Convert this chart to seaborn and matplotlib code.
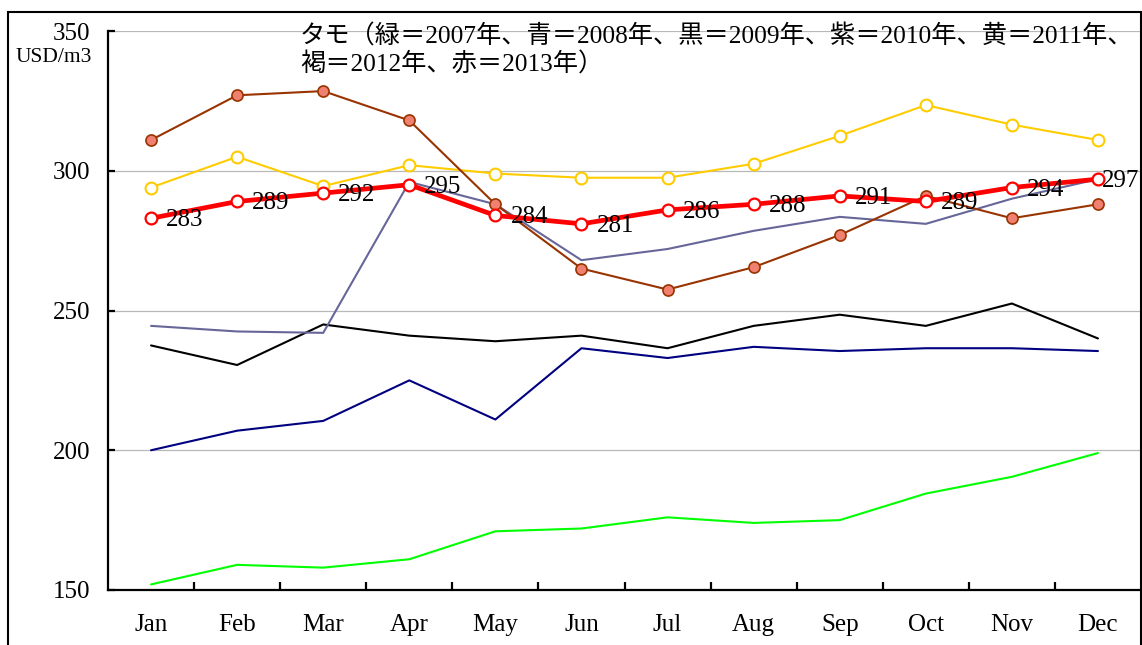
import pandas as pd
import seaborn as sns
import matplotlib.pyplot as plt
from matplotlib.patches import Rectangle
from matplotlib.ticker import FixedLocator

# 月
months = ["Jan", "Feb", "Mar", "Apr", "May", "Jun",
          "Jul", "Aug", "Sep", "Oct", "Nov", "Dec"]

# タモ価格 (USD/m3)
y2007 = [152, 159, 158, 161, 171, 172, 176, 174, 175, 184.5, 190.5, 199]
y2008 = [200, 207, 210.5, 225, 211, 236.5, 233, 237, 235.5, 236.5, 236.5, 235.5]
y2009 = [237.5, 230.5, 245, 241, 239, 241, 236.5, 244.5, 248.5, 244.5, 252.5, 240]
y2010 = [244.5, 242.5, 242, 296, 288, 268, 272, 278.5, 283.5, 281, 290, 297]
y2011 = [294, 305, 294.5, 302, 299, 297.5, 297.5, 302.5, 312.5, 323.5, 316.5, 311]
y2012 = [311, 327, 328.5, 318, 288, 265, 257.5, 265.5, 277, 291, 283, 288]
y2013 = [283, 289, 292, 295, 284, 281, 286, 288, 291, 289, 294, 297]

title1 = "タモ（緑＝2007年、青＝2008年、黒＝2009年、紫＝2010年、黄＝2011年、"
title2 = "褐＝2012年、赤＝2013年）"


def draw_chart() -> None:
    sns.set_theme(style="white")
    plt.rcParams["font.family"] = ["Liberation Serif", "Noto Sans CJK JP"]

    fig = plt.figure(figsize=(11.42, 6.45), dpi=100)
    W, H = 1142, 645
    ax = fig.add_axes([108 / W, (H - 590) / H, (1141 - 108) / W, (590 - 31) / H])

    # 外枠
    fig.patches.append(Rectangle((8 / W, -0.2), (1141 - 8) / W, 1.2 - 12 / H,
                                 transform=fig.transFigure, fill=False,
                                 edgecolor="black", linewidth=1.5, zorder=0))

    series = [
        (y2007, dict(color="#00ff00", linewidth=1.5)),
        (y2008, dict(color="#000080", linewidth=1.5)),
        (y2009, dict(color="#000000", linewidth=1.5)),
        (y2010, dict(color="#666699", linewidth=1.5)),
        (y2011, dict(color="#ffcc00", linewidth=1.5, marker="o", markersize=8.5,
                     markerfacecolor="white", markeredgecolor="#ffcc00",
                     markeredgewidth=1.5)),
        (y2012, dict(color="#993300", linewidth=1.5, marker="o", markersize=8,
                     markerfacecolor="#f08070", markeredgecolor="#993300",
                     markeredgewidth=1.2)),
        (y2013, dict(color="#ff0000", linewidth=3.4, marker="o", markersize=8.5,
                     markerfacecolor="white", markeredgecolor="#ff0000",
                     markeredgewidth=1.6)),
    ]
    for i, (vals, style) in enumerate(series):
        df = pd.DataFrame({"Month": months, "Price": vals})
        sns.lineplot(data=df, x="Month", y="Price", sort=False, ax=ax,
                     zorder=3 + i, **style)

    # データラベル (2013年)
    for i, v in enumerate(y2013):
        dx = 4 if i == len(y2013) - 1 else 15
        ax.annotate(f"{v:.0f}", (i, v), xytext=(dx, -2), textcoords="offset pixels",
                    ha="left", va="center", fontsize=18, color="black",
                    zorder=20, annotation_clip=False)

    ax.set_xlim(-0.5, 11.5)
    ax.set_ylim(150, 350)
    ax.set_yticks([150, 200, 250, 300, 350])
    ax.set_xticks(range(12))
    ax.set_xticklabels(months)
    ax.xaxis.set_minor_locator(FixedLocator([i + 0.5 for i in range(11)]))
    ax.set_xlabel("")
    ax.set_ylabel("")

    ax.grid(axis="y", color="#b8b8b8", linewidth=0.9)
    ax.set_axisbelow(True)
    for side in ["top", "right"]:
        ax.spines[side].set_visible(False)
    for side in ["left", "bottom"]:
        ax.spines[side].set_color("black")
        ax.spines[side].set_linewidth(1.6)

    ax.tick_params(axis="x", which="major", length=0, pad=17, labelsize=18,
                   labelcolor="black")
    ax.tick_params(axis="x", which="minor", bottom=True, direction="in",
                   length=6, width=1.6, color="black")
    ax.tick_params(axis="y", which="major", left=True, direction="in",
                   length=5, width=1.6, color="black", pad=13, labelsize=18,
                   labelcolor="black")

    fig.text(92 / W, 1 - 58 / H, "USD/m3", ha="right", va="center",
             fontsize=15.5, color="black")
    fig.text(300 / W, 1 - 37 / H, title1, ha="left", va="center",
             fontsize=18.2, color="black")
    fig.text(300 / W, 1 - 65 / H, title2, ha="left", va="center",
             fontsize=18.2, color="black")

    fig.savefig("out.png", dpi=100)


def main() -> None:
    draw_chart()


if __name__ == "__main__":
    main()
